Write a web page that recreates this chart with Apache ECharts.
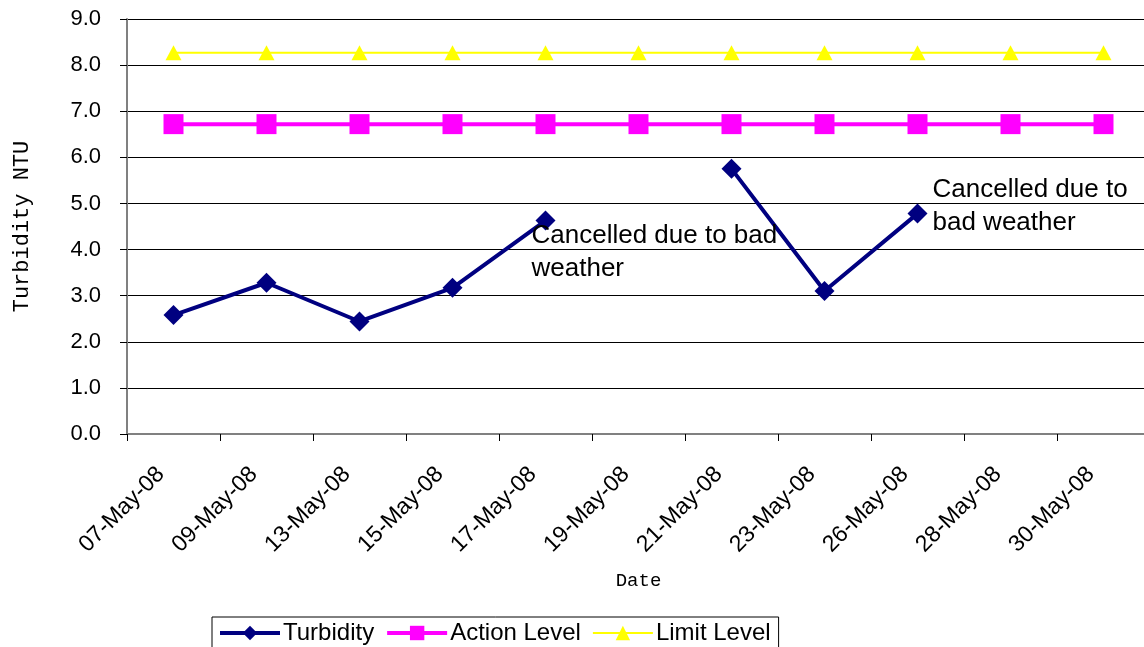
<!DOCTYPE html>
<html>
<head>
<meta charset="utf-8">
<script src="https://cdn.jsdelivr.net/npm/echarts@6/dist/echarts.min.js"></script>
<style>
html,body{margin:0;padding:0;background:#fff;}
#chart{width:1144px;height:647px;}
</style>
</head>
<body>
<div id="chart"></div>
<script>
var categories = ['07-May-08','09-May-08','13-May-08','15-May-08','17-May-08','19-May-08','21-May-08','23-May-08','26-May-08','28-May-08','30-May-08'];
var turbidity = [2.58, 3.28, 2.44, 3.17, 4.63, null, 5.75, 3.10, 4.78, null, null];
var actionLevel = [6.72, 6.72, 6.72, 6.72, 6.72, 6.72, 6.72, 6.72, 6.72, 6.72, 6.72];
var limitLevel = [8.27, 8.27, 8.27, 8.27, 8.27, 8.27, 8.27, 8.27, 8.27, 8.27, 8.27];
var yTicks = ['0.0','1.0','2.0','3.0','4.0','5.0','6.0','7.0','8.0','9.0'];
var note1 = 'Cancelled due to bad\nweather';
var note2 = 'Cancelled due to\nbad weather';

var noteStyle = {
  show: true, color: '#000', fontFamily: 'Liberation Sans, Arial, sans-serif',
  fontSize: 26, lineHeight: 33, align: 'left', verticalAlign: 'top'
};
var turbData = turbidity.map(function (v, i) {
  if (i === 4) return { value: v, label: Object.assign({}, noteStyle, { formatter: note1, position: [-4, 9] }) };
  if (i === 8) return { value: v, label: Object.assign({}, noteStyle, { formatter: note2, position: [25, -30] }) };
  return v;
});

var chart = echarts.init(document.getElementById('chart'));
chart.setOption({
  animation: false,
  backgroundColor: '#fff',
  textStyle: { fontFamily: 'Liberation Sans, Arial, sans-serif' },
  grid: { left: 127, top: 19, right: -6, bottom: 213, containLabel: false, outerBoundsMode: 'none' },
  legend: {
    left: 212, top: 617,
    itemWidth: 60, itemHeight: 18, itemGap: 11,
    padding: [4, 8, 8, 6],
    borderColor: '#000', borderWidth: 1,
    textStyle: { fontSize: 24, color: '#000', padding: [0, 0, 0, -2] },
    data: [
      { name: 'Turbidity', lineStyle: { width: 4 } },
      { name: 'Action Level', lineStyle: { width: 4 } },
      { name: 'Limit Level', lineStyle: { width: 2 } }
    ]
  },
  xAxis: {
    type: 'category', data: categories, boundaryGap: true,
    name: 'Date', nameLocation: 'middle', nameGap: 137,
    nameTextStyle: { fontFamily: 'Liberation Mono, monospace', fontSize: 19, color: '#000' },
    axisLine: { lineStyle: { color: '#808080', width: 2 } },
    axisTick: { show: true, length: 7, lineStyle: { color: '#000', width: 1 } },
    axisLabel: { rotate: 45, fontSize: 23, color: '#000', margin: 24, padding: [0, 18, 0, 0], interval: 0 }
  },
  yAxis: {
    type: 'value', min: 0, max: 9, interval: 1,
    name: 'Turbidity NTU', nameLocation: 'middle', nameGap: 94, nameRotate: 90,
    nameTextStyle: { fontFamily: 'Liberation Mono, monospace', fontSize: 22, color: '#000' },
    axisLine: { show: true, lineStyle: { color: '#808080', width: 2 } },
    axisTick: { show: true, length: 7, lineStyle: { color: '#000', width: 1 } },
    axisLabel: { fontSize: 22, color: '#000', margin: 26, formatter: function (v) { return yTicks[Math.round(v)]; } },
    splitLine: { show: true, lineStyle: { color: '#000', width: 1 } }
  },
  series: [
    {
      name: 'Turbidity', type: 'line', data: turbData, connectNulls: false,
      symbol: 'diamond', symbolSize: 20, z: 5,
      itemStyle: { color: '#000080' },
      lineStyle: { color: '#000080', width: 4 }
    },
    {
      name: 'Action Level', type: 'line', data: actionLevel,
      symbol: 'rect', symbolSize: 20,
      itemStyle: { color: '#FF00FF' },
      lineStyle: { color: '#FF00FF', width: 4 }
    },
    {
      name: 'Limit Level', type: 'line', data: limitLevel,
      symbol: 'triangle', symbolSize: [16, 15],
      itemStyle: { color: '#FFFF00' },
      lineStyle: { color: '#FFFF00', width: 2 }
    }
  ]
});
</script>
</body>
</html>
